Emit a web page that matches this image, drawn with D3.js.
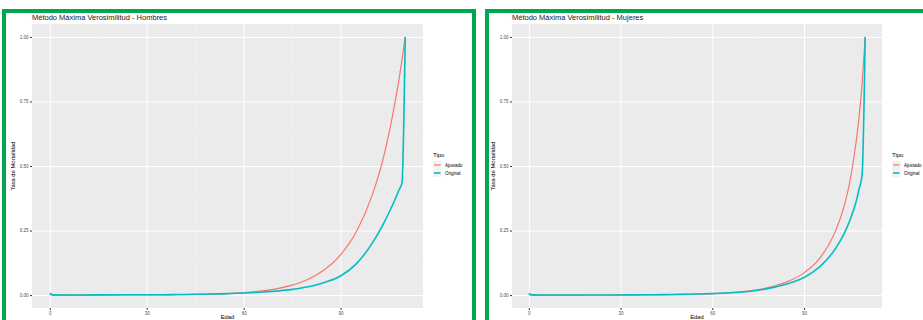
<!DOCTYPE html>
<html>
<head>
<meta charset="utf-8">
<script src="https://cdn.jsdelivr.net/npm/d3@7"></script>
<style>
  html, body { margin: 0; padding: 0; background: #fff; }
  svg { display: block; font-family: "Liberation Sans", Arial, sans-serif; }
</style>
</head>
<body>
<div id="chart"></div>
<script>
// edades comunes a todas las series
const edades = [0, 1, 5, 10, 15, 20, 25, 30, 35, 40, 45, 50, 55, 60, 65, 70, 75, 80, 85, 90, 95, 100, 103, 105, 107, 108, 109, 110];

// Hombres
const ajustadoH = [0.0020, 0.0002, 0.0001, 0.0001, 0.0001, 0.0002, 0.0004, 0.0006, 0.0009, 0.0015, 0.0024, 0.0038, 0.0060, 0.0096, 0.0152, 0.0242, 0.0386, 0.0614, 0.0978, 0.156, 0.248, 0.395, 0.52, 0.628, 0.757, 0.830, 0.911, 1.0];
const originalH = [0.0080, 0.0008, 0.0003, 0.0003, 0.0007, 0.0012, 0.0012, 0.0013, 0.0016, 0.0021, 0.0030, 0.0042, 0.0058, 0.0080, 0.0110, 0.0155, 0.0220, 0.0320, 0.0490, 0.0740, 0.1230, 0.2050, 0.2700, 0.3200, 0.3750, 0.4050, 0.4350, 1.0];

// Mujeres
const ajustadoM = [0.0020, 0.0002, 0.0001, 0.0001, 0.0002, 0.0003, 0.0004, 0.0006, 0.0008, 0.0012, 0.0018, 0.0027, 0.0040, 0.0060, 0.0090, 0.0135, 0.0210, 0.0340, 0.0540, 0.0860, 0.1400, 0.2400, 0.3400, 0.4400, 0.5900, 0.6900, 0.8200, 1.0];
const originalM = [0.0070, 0.0007, 0.0002, 0.0002, 0.0003, 0.0004, 0.0005, 0.0006, 0.0009, 0.0013, 0.0019, 0.0028, 0.0040, 0.0055, 0.0080, 0.0120, 0.0190, 0.0300, 0.0450, 0.0680, 0.1080, 0.1750, 0.2350, 0.2900, 0.3600, 0.4100, 0.4670, 1.0];

const xTicks = [0, 30, 60, 90];
const xMinor = [15, 45, 75, 105];
const yTicks = [0, 0.25, 0.5, 0.75, 1.0];
const yMinor = [0.125, 0.375, 0.625, 0.875];
const tipos = ['Ajustado', 'Original'];
const colores = ['#F8766D', '#00BFC4'];

const width = 923, height = 320;
const svg = d3.select('#chart').append('svg')
  .attr('width', width)
  .attr('height', height);

const color = d3.scaleOrdinal(tipos, colores);
const grosor = d3.scaleOrdinal(tipos, [1.2, 1.6]);

function drawPanel({ frameX, frameW, left, right, top, bottom, title, series }) {
  const g = svg.append('g');

  // green frame
  g.append('rect')
    .attr('x', frameX).attr('y', 11)
    .attr('width', frameW).attr('height', 330)
    .attr('fill', 'none')
    .attr('stroke', '#03A650')
    .attr('stroke-width', 4);

  const x = d3.scaleLinear([-5.5, 115.5], [left, right]);
  const y = d3.scaleLinear([-0.05, 1.05], [bottom, top]);

  g.append('rect')
    .attr('x', left).attr('y', top)
    .attr('width', right - left).attr('height', bottom - top)
    .attr('fill', '#EBEBEB');

  // minor grid
  g.append('g').selectAll('line').data(xMinor).join('line')
    .attr('x1', d => x(d)).attr('x2', d => x(d))
    .attr('y1', top).attr('y2', bottom)
    .attr('stroke', '#F5F5F5').attr('stroke-width', 0.5);
  g.append('g').selectAll('line').data(yMinor).join('line')
    .attr('x1', left).attr('x2', right)
    .attr('y1', d => y(d)).attr('y2', d => y(d))
    .attr('stroke', '#F5F5F5').attr('stroke-width', 0.5);

  // axes (ggplot style: major grid + small ticks)
  const xAxis = d3.axisBottom(x).tickValues(xTicks).tickSize(2).tickPadding(1.5)
    .tickFormat(d3.format('d'));
  const gX = g.append('g')
    .attr('transform', `translate(0,${bottom})`)
    .call(xAxis);
  gX.select('.domain').remove();
  gX.selectAll('.tick line').attr('stroke', '#333');
  gX.selectAll('.tick text').attr('fill', '#4D4D4D').attr('font-size', 4.5);
  gX.selectAll('.tick line').clone()
    .attr('y2', top - bottom)
    .attr('stroke', '#fff').attr('stroke-width', 1);

  const yAxis = d3.axisLeft(y).tickValues(yTicks).tickSize(2).tickPadding(1.5)
    .tickFormat(d3.format('.2f'));
  const gY = g.append('g')
    .attr('transform', `translate(${left},0)`)
    .call(yAxis);
  gY.select('.domain').remove();
  gY.selectAll('.tick line').attr('stroke', '#333');
  gY.selectAll('.tick text').attr('fill', '#4D4D4D').attr('font-size', 4.5);
  gY.selectAll('.tick line').clone()
    .attr('x1', 0).attr('x2', right - left)
    .attr('stroke', '#fff').attr('stroke-width', 1);

  // lines
  const line = d3.line()
    .x((d, i) => x(edades[i]))
    .y(d => y(d))
    .curve(d3.curveMonotoneX);

  g.append('g').selectAll('path').data(series).join('path')
    .attr('d', d => line(d.values))
    .attr('fill', 'none')
    .attr('stroke', d => color(d.tipo))
    .attr('stroke-width', d => grosor(d.tipo));

  // titles
  g.append('text')
    .attr('x', left).attr('y', top - 4.5)
    .attr('font-size', 7.5).attr('fill', '#1a1a1a')
    .text(title);
  g.append('text')
    .attr('x', (left + right) / 2).attr('y', 318.5)
    .attr('text-anchor', 'middle')
    .attr('font-size', 5.8).attr('fill', '#000')
    .text('Edad');
  g.append('text')
    .attr('transform', `translate(${left - 17},${(top + bottom) / 2}) rotate(-90)`)
    .attr('text-anchor', 'middle')
    .attr('font-size', 5.8).attr('fill', '#000')
    .text('Tasa de Mortalidad');

  // legend
  const lx = right + 10, ly = 157;
  const lg = g.append('g').attr('transform', `translate(${lx},${ly})`);
  lg.append('text').attr('x', 0).attr('y', 0)
    .attr('font-size', 6).attr('fill', '#000').text('Tipo');
  const item = lg.selectAll('g.item').data(tipos).join('g')
    .attr('class', 'item')
    .attr('transform', (d, i) => `translate(0,${8 + i * 8})`);
  item.append('rect')
    .attr('x', 0).attr('y', -4).attr('width', 8.5).attr('height', 8)
    .attr('fill', '#F2F2F2');
  item.append('line')
    .attr('x1', 1).attr('x2', 7.5).attr('y1', 0).attr('y2', 0)
    .attr('stroke', d => color(d)).attr('stroke-width', d => grosor(d));
  item.append('text')
    .attr('x', 12).attr('y', 1.6)
    .attr('font-size', 4.5).attr('fill', '#000')
    .text(d => d);
}

drawPanel({
  frameX: 4, frameW: 470,
  left: 32, right: 423, top: 24, bottom: 308,
  title: 'Método Máxima Verosimilitud - Hombres',
  series: [
    { tipo: 'Ajustado', values: ajustadoH },
    { tipo: 'Original', values: originalH }
  ]
});

drawPanel({
  frameX: 487, frameW: 500,
  left: 512, right: 882, top: 24, bottom: 308,
  title: 'Método Máxima Verosimilitud - Mujeres',
  series: [
    { tipo: 'Ajustado', values: ajustadoM },
    { tipo: 'Original', values: originalM }
  ]
});
</script>
</body>
</html>
